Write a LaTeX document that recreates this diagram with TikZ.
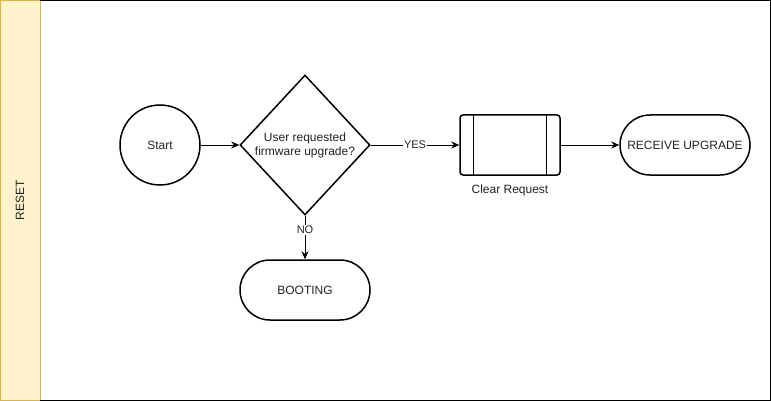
\documentclass[tikz,border=0pt]{standalone}
\usepackage{fontspec}
\setmainfont{Liberation Sans}
\usetikzlibrary{shapes.geometric,arrows.meta,positioning}
\definecolor{lanefill}{HTML}{FFF2CC}
\definecolor{laneline}{HTML}{D6B656}
\definecolor{txt}{HTML}{222222}

\begin{document}
\begin{tikzpicture}[x=1pt,y=-1pt,
        font=\fontsize{12}{14}\selectfont,
        box/.style={draw,line width=1.5pt,align=center,text=txt},
        term/.style={box,rectangle,rounded corners=30pt,minimum width=130pt,minimum height=60pt},
        edge/.style={-{Stealth[length=8pt,width=7pt]},line width=0.8pt},
        tag/.style={fill=white,inner sep=1pt,text=txt,font=\fontsize{11}{13}\selectfont}]
            \useasboundingbox (0,0) rectangle (771,401);
            \draw [fill=lanefill,draw=laneline] (0.5,0.5) rectangle (40,400.5);
            \draw (40,0.5) -- (770.5,0.5) -- (770.5,400.5) -- (40,400.5);
            \node [rotate=90,text=txt] (lane) at (20,200) {RESET};
            \node [box,circle,minimum size=80pt] (start) at (160,145) {Start};
            \node [box,diamond,aspect=0.93,inner sep=0pt,minimum width=130pt,minimum height=140pt] (ask) at (305,145) {User requested\\firmware upgrade?};
            \node [box,rectangle,rounded corners=3pt,minimum width=100pt,minimum height=60pt] (clear) at (510,145) {};
            \draw [line width=1.2pt] ([xshift=14pt]clear.north west) -- ([xshift=14pt]clear.south west);
            \draw [line width=1.2pt] ([xshift=-14pt]clear.north east) -- ([xshift=-14pt]clear.south east);
            \node [below=6pt of clear,text=txt] (clearlbl) {Clear Request};
            \node [term] (recv) at (685,145) {RECEIVE UPGRADE};
            \node [term] (boot) at (305,290) {BOOTING};
            \draw [edge] (start) -- (ask);
            \draw [edge] (ask) -- node [tag] {YES} (clear);
            \draw [edge] (clear) -- (recv);
            \draw [edge] (ask) -- node [tag,pos=0.33] {NO} (boot);
        \end{tikzpicture}
\end{document}
